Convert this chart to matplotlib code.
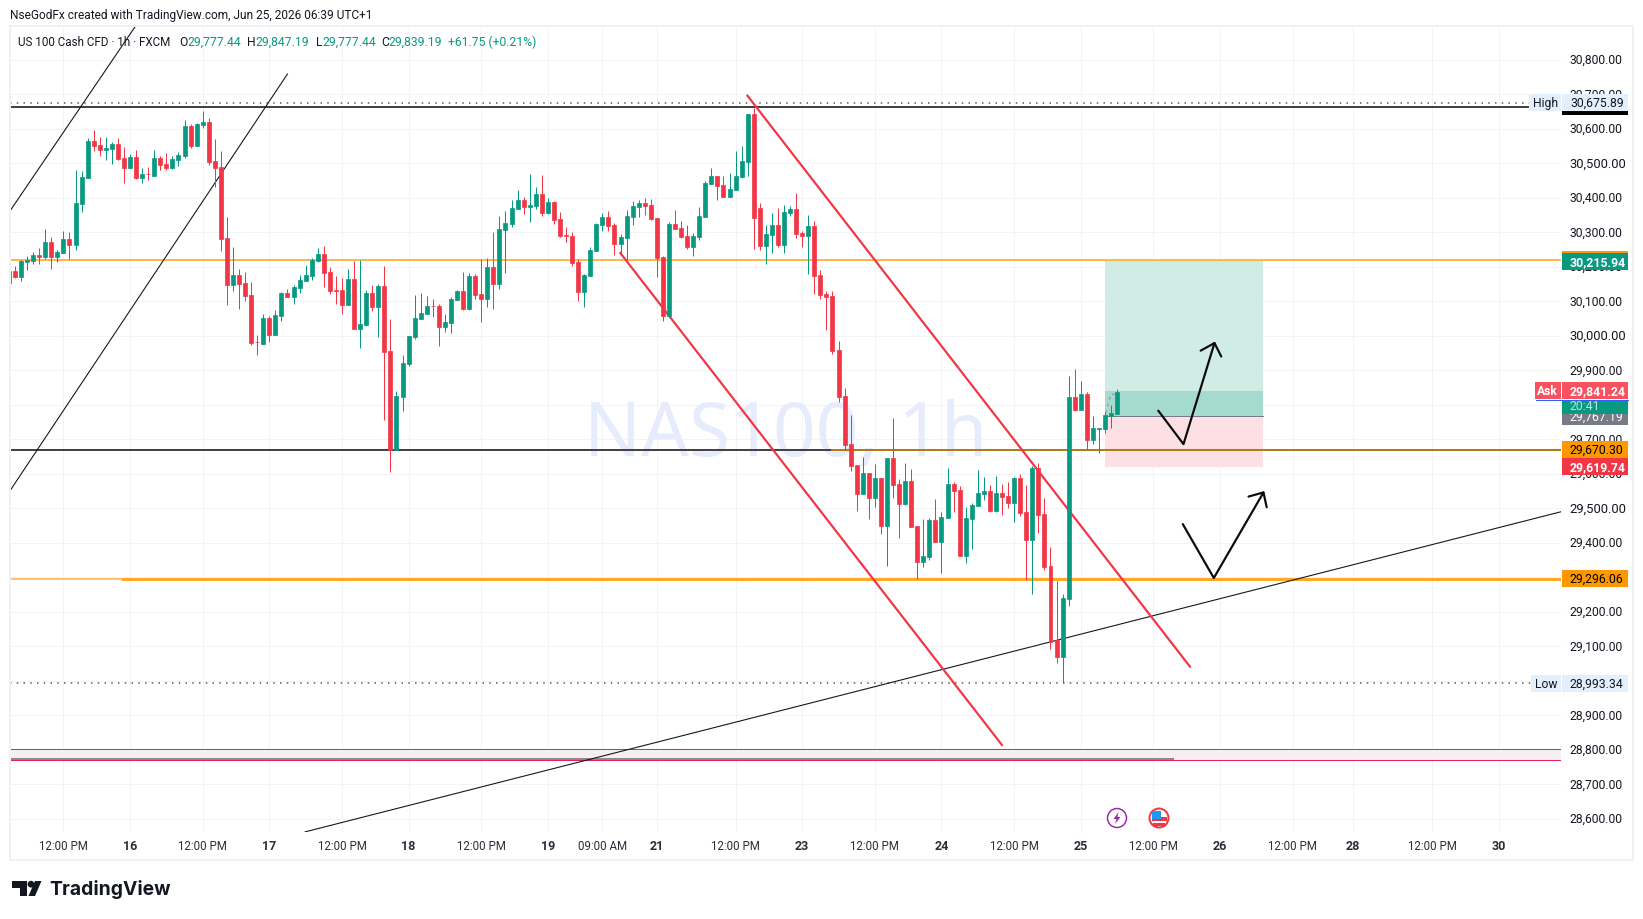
import numpy as np
import matplotlib
matplotlib.use("Agg")
import matplotlib.pyplot as plt
from matplotlib.patches import Rectangle, Circle, Polygon
from matplotlib.transforms import ScaledTranslation

plt.rcParams['font.family'] = ['Roboto', 'DejaVu Sans']

# hourly candles
opens = [30152,30189,30171,30215,30218,30234,30229,30273,30229,30241,
         30281,30264,30383,30458,30565,30554,30539,30542,30557,30516,
         30487,30519,30458,30470,30464,30516,30499,30487,30510,30522,
         30609,30551,30612,30620,30507,30490,30284,30148,30177,30154,
         30119,29983,29977,30052,30003,30058,30125,30113,30139,30160,
         30174,30218,30238,30186,30134,30134,30090,30165,30021,30032,
         30125,30084,30145,29957,29670,29823,29919,29997,30049,30064,
         30087,30087,30026,30038,30105,30131,30079,30174,30122,30107,
         30200,30151,30307,30325,30368,30394,30374,30377,30412,30357,
         30389,30339,30293,30290,30215,30128,30174,30246,30322,30345,
         30322,30267,30284,30345,30374,30386,30380,30342,30229,30058,
         30325,30313,30290,30258,30287,30345,30441,30464,30438,30403,
         30423,30461,30504,30643,30371,30261,30293,30322,30264,30357,
         30368,30299,30290,30319,30177,30122,30116,29960,29826,29687,
         29626,29542,29603,29531,29589,29449,29647,29571,29513,29580,
         29450,29345,29360,29467,29403,29473,29571,29554,29363,29470,
         29507,29542,29551,29493,29545,29536,29516,29589,29490,29408,
         29617,29484,29333,29119,29069,29237,29823,29785,29832,29698,
         29731,29730,29768,29774]
highs = [30189,30203,30219,30230,30244,30254,30310,30287,30249,30304,
         30301,30481,30477,30574,30597,30577,30577,30562,30574,30548,
         30528,30539,30487,30490,30539,30522,30531,30522,30533,30626,
         30615,30618,30652,30632,30571,30536,30345,30258,30194,30186,
         30157,30003,30064,30058,30076,30128,30136,30148,30177,30206,
         30225,30255,30261,30200,30174,30168,30194,30218,30221,30134,
         30148,30151,30203,30050,29841,29945,30000,30119,30125,30116,
         30107,30093,30064,30113,30134,30186,30183,30180,30223,30225,
         30302,30348,30362,30394,30423,30403,30470,30432,30467,30400,
         30391,30359,30316,30302,30223,30180,30257,30328,30357,30362,
         30328,30296,30365,30391,30394,30400,30397,30342,30232,30330,
         30365,30333,30322,30299,30374,30449,30487,30464,30464,30472,
         30536,30551,30643,30661,30386,30322,30357,30371,30380,30377,
         30415,30304,30351,30333,30191,30131,30131,29986,29849,29771,
         29626,29649,29603,29629,29589,29647,29762,29586,29632,29615,
         29450,29470,29473,29528,29490,29618,29577,29565,29505,29516,
         29612,29591,29568,29594,29571,29577,29591,29600,29568,29623,
         29632,29530,29388,29290,29252,29884,29904,29869,29837,29768,
         29733,29779,29800,29846]
lows = [30152,30167,30160,30192,30209,30209,30224,30195,30215,30241,
        30223,30249,30360,30458,30536,30522,30510,30499,30510,30444,
        30487,30455,30444,30452,30464,30481,30481,30484,30493,30516,
        30545,30551,30603,30496,30432,30247,30090,30131,30079,30102,
        29974,29945,29977,29983,30003,30044,30113,30093,30125,30160,
        30163,30215,30142,30122,30093,30064,30090,30021,29966,30029,
        30073,29997,29757,29606,29670,29783,29913,29992,30049,30064,
        30055,29971,30012,30009,30105,30076,30076,30107,30041,30084,
        30079,30136,30183,30316,30368,30354,30331,30368,30348,30354,
        30325,30287,30273,30203,30102,30084,30174,30246,30304,30304,
        30235,30235,30220,30322,30345,30351,30336,30171,30044,30058,
        30310,30284,30252,30232,30278,30345,30441,30394,30403,30403,
        30423,30458,30464,30252,30249,30209,30241,30258,30241,30348,
        30284,30258,30180,30122,30107,30017,29948,29809,29670,29609,
        29493,29542,29470,29505,29426,29334,29531,29415,29510,29447,
        29296,29331,29351,29403,29313,29473,29490,29363,29342,29383,
        29507,29525,29490,29490,29481,29502,29461,29478,29292,29252,
        29429,29321,29093,29052,28993,29217,29782,29785,29672,29687,
        29661,29718,29733,29774]
closes = [30189,30171,30218,30221,30234,30229,30273,30229,30244,30281,
          30264,30386,30461,30565,30551,30539,30545,30557,30513,30487,
          30519,30458,30470,30468,30516,30496,30487,30513,30525,30609,
          30551,30615,30620,30505,30487,30281,30148,30177,30151,30116,
          29980,29981,30052,30003,30061,30125,30113,30142,30163,30177,
          30221,30238,30183,30131,30131,30090,30165,30021,30035,30125,
          30084,30145,29954,29670,29826,29922,30000,30052,30067,30087,
          30086,30026,30041,30107,30131,30079,30174,30119,30107,30200,
          30151,30310,30328,30371,30394,30374,30380,30412,30357,30389,
          30336,30290,30290,30212,30128,30177,30249,30325,30345,30319,
          30267,30287,30348,30377,30386,30377,30339,30226,30058,30325,
          30310,30287,30258,30290,30348,30443,30464,30435,30403,30426,
          30464,30507,30643,30342,30261,30296,30322,30264,30359,30368,
          30296,30290,30319,30174,30119,30113,29957,29823,29684,29623,
          29542,29603,29531,29589,29449,29647,29568,29513,29580,29447,
          29345,29363,29467,29403,29476,29571,29551,29363,29473,29510,
          29545,29551,29493,29545,29534,29516,29589,29487,29408,29617,
          29481,29330,29113,29069,29240,29823,29785,29832,29698,29733,
          29733,29771,29776,29837]

# time axis, positions in bars
tick_bars = [9,20,32,43,55,66,78,89,98,107,120,131,143,154,166,177,189,200,212,222,235,246]
tick_labels = ["12:00 PM","16","12:00 PM","17","12:00 PM","18","12:00 PM","19","09:00 AM","21",
               "12:00 PM","23","12:00 PM","24","12:00 PM","25","12:00 PM","26","12:00 PM","28",
               "12:00 PM","30"]
price_ticks = list(range(28600, 30900, 100))

# price levels and drawings
high_price = 30675.89
low_price = 28993.34
black_levels = [30664, 29670]
target_price = 30215.94
entry_price = 29767.19
stop_price = 29619.74
last_price = 29839.19
orange_top = 30221
orange_mid = 29670
orange_low = 29296
band_top = 28802
band_bottom = 28770
band_grey = 28774

channel_a = ([0.3, 20.8], [30365, 30895])
channel_b = ([0.3, 46.0], [29554, 30759])
trend_line = ([48.9, 256.3], [28562, 29490])
red_upper = ([121.96, 195.03], [30696, 29041])
red_lower = ([100.97, 163.98], [30240, 28814])
box_bars = (181, 207.1)
ghost_line = ([181.1, 182.0, 182.7], [29776, 29832, 29829])

arrow1 = ([189.8, 193.96, 199.08], [29783, 29686, 29979])
head1 = ([196.8, 199.08, 200.2], [29957, 29979, 29940])
arrow2 = ([193.85, 198.97, 207.17], [29454, 29298, 29546])
head2 = ([204.7, 207.17, 207.7], [29534, 29546, 29503])

GREEN = '#089981'
RED = '#f23645'
TXT = '#131722'
GRID = '#f2f3f5'
px = 0.72  # one pixel in points at dpi 100

fig = plt.figure(figsize=(16.43, 9.2), dpi=100)
ax = fig.add_axes([10/1643, (920-832.8)/920, (1561-10)/1643, (832-27)/920])
ax.set_xlim(0.18, 256.3)
ax.set_ylim(28562.3, 30895.7)
for s in ax.spines.values():
    s.set_visible(False)

ax.yaxis.tick_right()
ax.set_yticks(price_ticks)
ax.set_yticklabels([f"{p:,.2f}" for p in price_ticks], fontsize=8.7, color=TXT)
ax.set_xticks(tick_bars)
ax.set_xticklabels(tick_labels, fontsize=8.3, color='#2a2e39')
ax.tick_params(length=0)
ax.tick_params(axis='y', pad=6)
ax.tick_params(axis='x', pad=5.2)
for lab, p in zip(ax.get_yticklabels(), price_ticks):
    if p % 500 == 0:
        lab.set_fontsize(9.4)
    lab.set_transform(lab.get_transform() + ScaledTranslation(0, 0.019, fig.dpi_scale_trans))
for lab, t in zip(ax.get_xticklabels(), tick_labels):
    if len(t) == 2:
        lab.set_fontweight('bold')
        lab.set_fontsize(9)
ax.grid(color=GRID, lw=1*px, zorder=0)
ax.set_axisbelow(True)

ax.text(0.4998, 0.492, "NAS100, 1h", transform=ax.transAxes, ha='center', va='center',
        fontsize=54, color='#e7ecfd', family='Noto Sans', zorder=1)

# long position box
ax.fill_between(box_bars, entry_price, target_price, color='#d1ebe5', lw=0, zorder=1.5)
ax.fill_between(box_bars, entry_price, last_price, color='#a5dacf', lw=0, zorder=1.6)
ax.fill_between(box_bars, stop_price, entry_price, color='#fde0e3', lw=0, zorder=1.5)
ax.plot(box_bars, [entry_price, entry_price], color='#787b86', lw=1*px, zorder=1.7)
ax.plot(ghost_line[0], ghost_line[1], color='#9a9a9a', lw=1.4*px, ls=(0, (2, 3)), zorder=1.8)

# band at the bottom
ax.axhspan(band_bottom, band_top, color='#f7efef', lw=0, zorder=1.5)
ax.axhline(band_top, color='#e91e63', lw=1*px, zorder=2)
ax.axhline(band_bottom, color='#e91e63', lw=1*px, zorder=2)
ax.plot([0.18, 192.3], [band_grey, band_grey], color='#8a8a8a', lw=2*px, zorder=2.1)

# levels
ax.axhline(high_price, color='#555555', lw=1.5*px, ls=(0, (1, 3.5)), zorder=2)
ax.axhline(low_price, color='#555555', lw=1.5*px, ls=(0, (1, 3.5)), zorder=2)
for lvl in black_levels:
    ax.axhline(lvl, color='#434343', lw=2*px, zorder=2)
ax.axhline(orange_top, color='#ffb74d', lw=2*px, zorder=2.2)
ax.plot([135.9, 256.3], [orange_mid, orange_mid], color='#b27a1a', lw=2*px, zorder=2.2)
ax.axhline(orange_low, color='#ffc069', lw=2*px, zorder=2.2)
ax.plot([18.9, 256.3], [orange_low, orange_low], color='#ffa726', lw=3*px, zorder=2.3)

# hand drawn lines
for ln in (channel_a, channel_b, trend_line):
    ax.plot(ln[0], ln[1], color='#131722', lw=1.1*px, zorder=2.5)
for ln in (red_upper, red_lower):
    ax.plot(ln[0], ln[1], color=RED, lw=2.2*px, zorder=2.5)
for ln in (arrow1, head1, arrow2, head2):
    ax.plot(ln[0], ln[1], color='#0c0c0c', lw=2.2*px, zorder=2.5, solid_capstyle='round')

# candles sit on top of the drawings
bars = np.arange(len(opens))
o = np.array(opens, dtype=float)
c = np.array(closes, dtype=float)
colors = [GREEN if cc >= oo else RED for oo, cc in zip(o, c)]
ax.vlines(bars, lows, highs, colors=colors, lw=1*px, zorder=3)
ax.bar(bars, np.abs(c-o), bottom=np.minimum(o, c), width=0.66, color=colors,
       edgecolor=colors, lw=0.7*px, zorder=3.1)

# everything around the chart is placed in image pixels
ov = fig.add_axes([0, 0, 1, 1])
ov.set_xlim(0, 1643)
ov.set_ylim(920, 0)
ov.axis('off')

ov.add_patch(Rectangle((10, 27), 1623, 833.5, fill=False, ec='#f0f1f3', lw=2*px))

ov.text(10, 15, "NseGodFx created with TradingView.com, Jun 25, 2026 06:39 UTC+1",
        fontsize=8.6, color=TXT, va='center')


def legend_text(x, s, col=TXT, size=8.7):
    ov.text(x, 42, s, fontsize=size, color=col, va='center')


legend_text(18, "US 100 Cash CFD · 1h · FXCM", size=8.35)
legend_text(179, "O")
legend_text(187.5, "29,777.44", GREEN)
legend_text(247, "H")
legend_text(255, "29,847.19", GREEN)
legend_text(316, "L")
legend_text(322, "29,777.44", GREEN)
legend_text(381, "C")
legend_text(388, "29,839.19", GREEN)
legend_text(448, "+61.75 (+0.21%)", GREEN)

tag_order = [10]


def tag(y0, y1, s, bg, fg, x0=1562, x1=1628, bold=False, ty=None):
    # later tags cover the earlier ones, text included
    z = tag_order[0]
    tag_order[0] += 2
    ov.add_patch(Rectangle((x0, y0), x1-x0, y1-y0, color=bg, lw=0, zorder=z))
    wide = x1-x0 > 40
    ov.text(1570 if wide else (x0+x1)/2, (y0+y1)/2 if ty is None else ty, s,
            ha='left' if wide else 'center', va='center', fontsize=8.8 if wide else 8.7,
            color=fg, fontweight='bold' if bold else 'normal', zorder=z+1)


tag(96, 116, "", '#000000', TXT)
tag(95, 112, "30,675.89", '#e3effd', TXT)
tag(95, 112, "High", '#e3effd', TXT, x0=1529, x1=1561)
tag(252, 254.5, "", '#ff9800', TXT)
tag(254, 271, "30,215.94", GREEN, 'white', bold=True)
tag(413, 426, "29,767.19", '#787b86', 'white', ty=417.5)
tag(400.5, 415, "20:41", GREEN, '#b8e6dc', ty=406.5)
tag(383, 400, "29,841.24", '#f7525f', 'white', bold=True)
tag(383, 400, "Ask", '#f7525f', 'white', x0=1535, x1=1560.5, bold=True)
ov.plot([1536, 1628], [400.5, 400.5], color='#2962ff', lw=1*px, zorder=40)
tag(442, 459, "29,670.30", '#ff9800', '#000000')
tag(459, 476, "29,619.74", RED, 'white', bold=True)
tag(570.5, 587.5, "29,296.06", '#ff9800', '#000000')
tag(676, 692.5, "28,993.34", '#e3effd', TXT)
tag(676, 692.5, "Low", '#e3effd', TXT, x0=1531, x1=1561)

# event icons
ov.add_patch(Circle((1117, 819), 9.5, fc='white', ec='#9c27b0', lw=1.5*px))
ov.add_patch(Polygon([(1118.5, 813), (1113.5, 820), (1116.5, 820), (1115, 825), (1120.5, 818), (1117.5, 818)],
                     color='#9c27b0', lw=0))
ov.add_patch(Circle((1159, 819), 9.5, fc='white', ec=RED, lw=2*px))
ov.add_patch(Rectangle((1151.5, 817.5), 15, 4, color=RED, lw=0))
ov.add_patch(Rectangle((1153, 824), 12, 2.5, color=RED, lw=0))
ov.add_patch(Rectangle((1152, 812), 8.5, 8, color='#2196f3', lw=0))

# TradingView logo
ov.add_patch(Polygon([(12, 882), (27, 882), (27, 897), (20, 897), (20, 889), (12, 889)], color='#131722', lw=0))
ov.add_patch(Circle((31, 885.2), 3.4, color='#131722', lw=0))
ov.add_patch(Polygon([(35, 882), (41.5, 882), (35, 897), (28.5, 897)], color='#131722', lw=0))
ov.text(49, 889.5, "TradingView", fontsize=13.9, fontweight='bold', color='#131722', va='center', family='Inter')

fig.savefig("out.png", dpi=100)
